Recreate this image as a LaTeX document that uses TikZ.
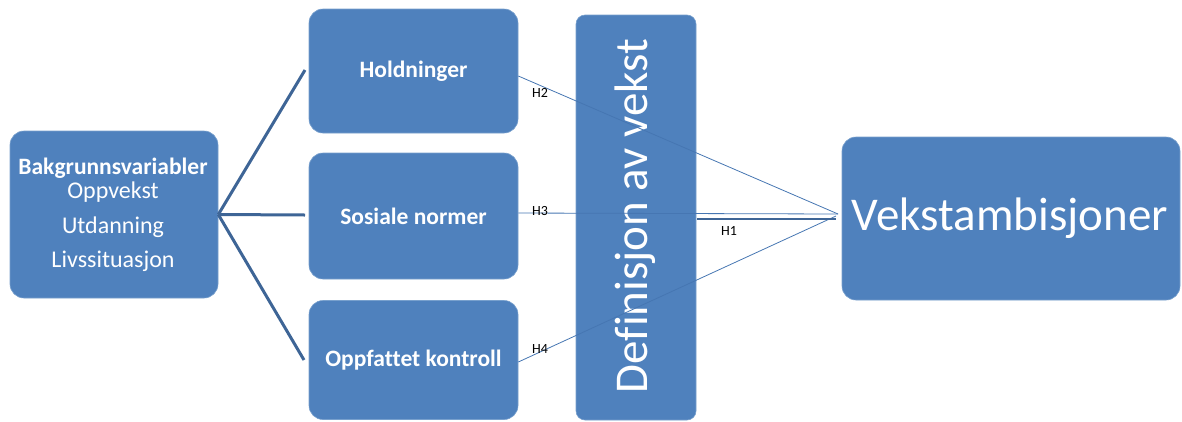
\documentclass[tikz,border=0pt]{standalone}
\usepackage{fontspec}
\setmainfont{Carlito}[Ligatures=NoCommon]
\usetikzlibrary{calc}
\definecolor{boxblue}{RGB}{79,129,189}
\definecolor{boxedge}{RGB}{120,160,205}
\definecolor{linkdark}{RGB}{62,101,150}
\definecolor{linkthin}{RGB}{70,118,178}
\tikzset{
  box/.style={fill=boxblue, draw=boxedge, line width=0.6pt, rounded corners=14pt, inner sep=0pt},
  tallbox/.style={box, rounded corners=9pt},
  boxtext/.style={text=white, inner sep=0pt, font=\bfseries\fontsize{23.5}{27}\selectfont},
  subtext/.style={text=white, inner sep=0pt, font=\fontsize{24}{28}\selectfont},
  bigtext/.style={text=white, inner sep=0pt, font=\fontsize{47}{54}\selectfont},
  hlabel/.style={text=black, inner sep=0pt, font=\fontsize{14}{16}\selectfont},
  thick link/.style={draw=linkdark, line width=3pt},
  thin link/.style={draw=linkthin, line width=0.8pt},
}
\begin{document}
\begin{tikzpicture}[x=1pt, y=-1pt]
\useasboundingbox (0,0) rectangle (1182,421);

% boxes
\node[box, minimum width=208pt, minimum height=167pt] (bg) at (114,214.5) {};
\node[box, minimum width=209pt, minimum height=124pt] (hold) at (413.5,71) {};
\node[box, minimum width=209pt, minimum height=126pt] (sos) at (413.5,216) {};
\node[box, minimum width=209pt, minimum height=119pt] (opp) at (413.5,360) {};
\node[tallbox, minimum width=120pt, minimum height=405pt] (def) at (636,217.5) {};
\node[box, minimum width=338pt, minimum height=163pt] (vek) at (1011,218.5) {};

% texts
\node[boxtext] (bgtitle) at (113,168) {Bakgrunnsvariabler};
\node[subtext] (bg1) at (113,192) {Oppvekst};
\node[subtext] (bg2) at (113,227) {Utdanning};
\node[subtext] (bg3) at (113,261) {Livssituasjon};
\node[boxtext] (holdt) at (hold) {Holdninger};
\node[boxtext] (sost) at (sos) {Sosiale normer};
\node[boxtext] (oppt) at (opp) {Oppfattet kontroll};
\node[bigtext, rotate=90] (deft) at (635,216) {Definisjon av vekst};
\node[bigtext] (vekt) at (1010,218) {Vekstambisjoner};

% background variables fan out to the three predictors
\coordinate (fanA) at (305,70);
\coordinate (fanB) at (305,215);
\coordinate (fanC) at (304,360);
\draw[thick link] (bg.east) -- (fanA);
\draw[thick link] (bg.east) -- (fanB);
\draw[thick link] (bg.east) -- (fanC);

% hypotheses towards growth ambitions
\coordinate (conv) at (838,214);
\coordinate (convlow) at (836,216);
\coordinate (h2start) at ($(hold.east)+(0,5)$);
\coordinate (h3start) at ($(sos.east)+(0,-3)$);
\coordinate (h4start) at ($(opp.east)+(0,2)$);
\draw[thin link] (h2start) -- (conv);
\draw[thin link] (h3start) -- (conv);
\draw[thin link] (h4start) -- (convlow);
\coordinate (h1start) at ($(def.east)+(1,1.5)$);
\coordinate (h1end) at (836,219);
\draw[draw=linkdark, line width=2.8pt] (h1start) -- (h1end);

% labels
\node[hlabel] (lh2) at (540,93) {H2};
\node[hlabel] (lh3) at (540,211) {H3};
\node[hlabel] (lh4) at (540,349) {H4};
\node[hlabel] (lh1) at (729,231) {H1};
\end{tikzpicture}
\end{document}
